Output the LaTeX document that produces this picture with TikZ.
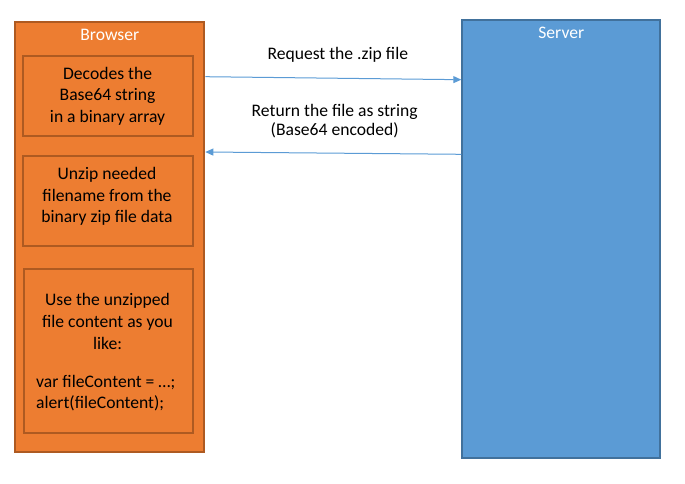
\documentclass[tikz,border=0pt]{standalone}
\usepackage{fontspec}
\setmainfont{Carlito}
\usetikzlibrary{arrows.meta}
\definecolor{boxorange}{HTML}{ED7D31}
\definecolor{boxorangeline}{HTML}{AE5A21}
\definecolor{boxblue}{HTML}{5B9BD5}
\definecolor{boxblueline}{HTML}{41719C}
\definecolor{flowblue}{HTML}{5B9BD5}
\begin{document}
\begin{tikzpicture}[x=1pt,y=-1pt,
	txt/.style={inner sep=0pt,font={\fontsize{17.6}{21.7}\selectfont}},
	side/.style={draw,line width=2pt,inner sep=0pt},
	stagebox/.style={draw=boxorangeline,fill=boxorange,line width=2pt,inner sep=0pt,minimum width=169.7pt},
	flow/.style={draw=flowblue,line width=1pt,-{Triangle[length=8pt,width=7pt]}}]
	\useasboundingbox (0,0) rectangle (685,484);
	\node[side,draw=boxorangeline,fill=boxorange,minimum width=189pt,minimum height=430.6pt] (browser) at (109.8,237) {};
	\node[side,draw=boxblueline,fill=boxblue,minimum width=198pt,minimum height=438.6pt] (server) at (561.3,239) {};
	\node[txt,white,anchor=base] (browsertitle) at ([yshift=-20pt]browser.north) {Browser};
	\node[txt,white,anchor=base] (servertitle) at ([yshift=-20.3pt]server.north) {Server};

	\node[stagebox,minimum height=79.7pt] (decode) at (108.2,96.2) {};
	\node[stagebox,minimum height=90.3pt] (unzip) at (108.2,201.2) {};
	\node[stagebox,minimum width=169pt,minimum height=163.7pt] (use) at (108.8,351.2) {};
	\node[txt,align=center] (decodetext) at (107.6,96.2) {Decodes the\\Base64 string\\in a binary array};
	\node[txt,align=center] (unziptext) at (107,196.4) {Unzip needed\\filename from the\\binary zip file data};
	\node[txt,align=center] (usetext) at (107.5,321.4) {Use the unzipped\\file content as you\\like:};
	\node[txt,align=left,anchor=west] (codetext) at (36,393) {var fileContent = …;\\alert(fileContent);};

	\node[txt,anchor=base] (requestlabel) at (337.8,59.3) {Request the .zip file};
	\node[txt,align=center,font={\fontsize{17.6}{19.6}\selectfont}] (returnlabel) at (334.7,121) {Return the file as string\\(Base64 encoded)};
	\draw[flow] ([yshift=-56pt]browser.north east) -- ([yshift=-61pt]server.north west);
	\draw[flow] ([yshift=-135.6pt]server.north west) -- ([yshift=-131.3pt]browser.north east);
\end{tikzpicture}
\end{document}
